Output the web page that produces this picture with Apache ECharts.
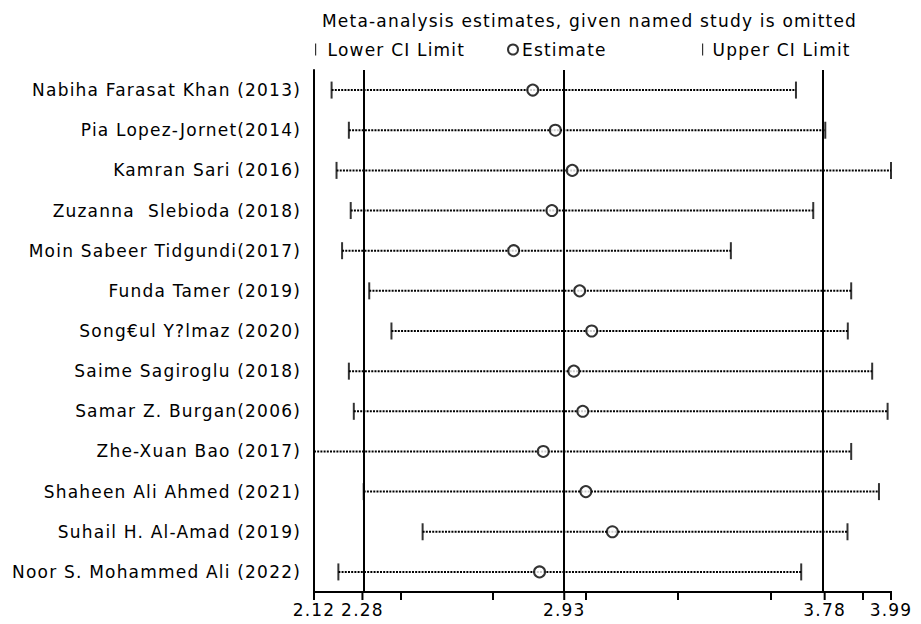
<!DOCTYPE html>
<html>
<head>
<meta charset="utf-8">
<script src="https://cdn.jsdelivr.net/npm/echarts@6/dist/echarts.min.js"></script>
<style>
  html, body { margin: 0; background: #fff; }
  #chart { width: 921px; height: 624px; }
  /* the original uses a loosely spaced font */
  #chart text { letter-spacing: 1.2px; }
</style>
</head>
<body>
<div id="chart"></div>
<script>
// studies, top to bottom
const studies = [
  "Nabiha Farasat Khan (2013)",
  "Pia Lopez-Jornet(2014)",
  "Kamran Sari (2016)",
  "Zuzanna  Slebioda (2018)",
  "Moin Sabeer Tidgundi(2017)",
  "Funda Tamer (2019)",
  "Song€ul Y?lmaz (2020)",
  "Saime Sagiroglu (2018)",
  "Samar Z. Burgan(2006)",
  "Zhe-Xuan Bao (2017)",
  "Shaheen Ali Ahmed (2021)",
  "Suhail H. Al-Amad (2019)",
  "Noor S. Mohammed Ali (2022)"
];
const lowerCI   = [2.177, 2.233, 2.193, 2.239, 2.211, 2.299, 2.371, 2.233, 2.249, 2.120, 2.281, 2.472, 2.199];
const estimates = [2.829, 2.902, 2.957, 2.891, 2.767, 2.981, 3.020, 2.962, 2.991, 2.863, 3.001, 3.087, 2.851];
const upperCI   = [3.682, 3.777, 3.990, 3.738, 3.471, 3.861, 3.850, 3.929, 3.979, 3.861, 3.951, 3.849, 3.699];

// overall CI limits and estimate
const refLines = [2.277, 2.931, 3.775];
const tickValues = [2.12, 2.277, 2.931, 3.775, 3.99];
const tickLabels = ["2.12", "2.28", "2.93", "3.78", "3.99"];

const FONT = "DejaVu Sans";
const barIcon = "path://M0,0 L2,0 L2,20 L0,20 Z";

const chart = echarts.init(document.getElementById("chart"), null, { renderer: "svg" });

function legendItem(item, left, w, pad) {
  return {
    data: [item],
    left: left,
    top: 36,
    itemWidth: w,
    itemHeight: w,
    itemGap: 0,
    textStyle: { fontSize: 17, color: "#000", fontFamily: FONT, padding: [0, 0, 0, pad] }
  };
}

const option = {
  animation: false,
  textStyle: { fontFamily: FONT },
  title: {
    text: "Meta-analysis estimates, given named study is omitted",
    left: 317,
    top: 7,
    textStyle: { fontSize: 17, fontWeight: "normal", color: "#000", fontFamily: FONT }
  },
  legend: [
    legendItem({ name: "Lower CI Limit", icon: barIcon, itemStyle: { color: "#000" } }, 310, 12, 1),
    legendItem({ name: "Estimate", icon: "emptyCircle", itemStyle: { color: "#000", borderColor: "#000", borderWidth: 1.5 } }, 502, 10, -1),
    legendItem({ name: "Upper CI Limit", icon: barIcon, itemStyle: { color: "#000" } }, 697, 12, -1)
  ],
  grid: { left: 314, right: 30, top: 70, bottom: 32 },
  xAxis: {
    type: "value",
    min: 2.12,
    max: 3.99,
    splitLine: { show: false },
    axisLine: { show: true, onZero: false, lineStyle: { color: "#000", width: 2 } },
    axisTick: { show: true, length: 8, lineStyle: { color: "#000", width: 2 } },
    axisLabel: {
      customValues: tickValues,
      fontSize: 17,
      color: "#000",
      margin: 9,
      formatter: v => tickLabels[tickValues.indexOf(v)]
    }
  },
  yAxis: {
    type: "category",
    data: studies,
    inverse: true,
    axisLine: { show: true, lineStyle: { color: "#000", width: 2 } },
    axisTick: { show: false },
    axisLabel: { fontSize: 17, color: "#000", margin: 13 }
  },
  series: [
    {
      name: "range",
      type: "custom",
      clip: false,
      data: studies.map((s, i) => [lowerCI[i], upperCI[i], i]),
      renderItem: (params, api) => {
        const a = api.coord([api.value(0), api.value(2)]);
        const b = api.coord([api.value(1), api.value(2)]);
        const children = [{
          type: "line",
          shape: { x1: a[0], y1: a[1], x2: b[0], y2: b[1] },
          style: { stroke: "#000", lineWidth: 2, lineDash: [2, 1.2] }
        }];
        // the last row also carries the bottom axis line and its ticks
        if (params.dataIndex === studies.length - 1) {
          const cs = params.coordSys;
          const yb = cs.y + cs.height;
          children.push({
            type: "line",
            shape: { x1: cs.x - 1, y1: yb, x2: cs.x + cs.width + 1, y2: yb },
            style: { stroke: "#000", lineWidth: 2 }
          });
          tickValues.forEach(v => {
            const x = api.coord([v, api.value(2)])[0];
            children.push({
              type: "line",
              shape: { x1: x, y1: yb, x2: x, y2: yb + 8 },
              style: { stroke: "#000", lineWidth: 2 }
            });
          });
        }
        return { type: "group", children: children };
      },
      markLine: {
        silent: true,
        symbol: "none",
        label: { show: false },
        lineStyle: { color: "#000", width: 2, type: "solid" },
        data: refLines.map(v => ({ xAxis: v }))
      },
      z: 2
    },
    {
      name: "Lower CI Limit",
      type: "scatter",
      symbol: barIcon,
      symbolSize: [2, 17],
      data: studies.map((s, i) => [lowerCI[i], i]),
      itemStyle: { color: "#000" },
      z: 3
    },
    {
      name: "Upper CI Limit",
      type: "scatter",
      symbol: barIcon,
      symbolSize: [2, 17],
      data: studies.map((s, i) => [upperCI[i], i]),
      itemStyle: { color: "#000" },
      z: 3
    },
    {
      name: "Estimate",
      type: "scatter",
      symbol: "emptyCircle",
      symbolSize: 11,
      data: studies.map((s, i) => [estimates[i], i]),
      itemStyle: { color: "#000", borderColor: "#000", borderWidth: 1.8 },
      z: 4
    }
  ]
};

chart.setOption(option);
</script>
</body>
</html>
